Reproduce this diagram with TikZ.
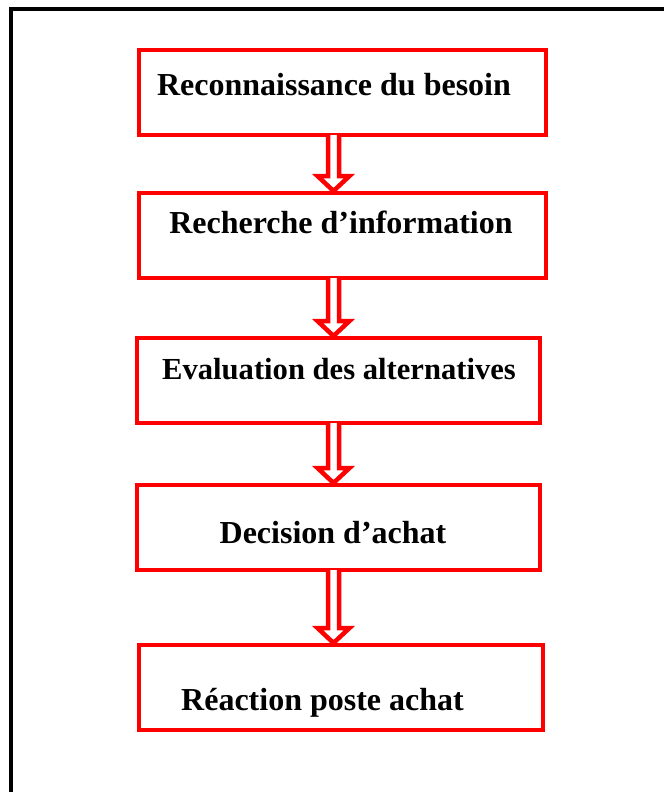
\documentclass[tikz,border=0pt]{standalone}
\usepackage{fontspec}
\setmainfont{Liberation Serif}
\usetikzlibrary{calc}
\definecolor{boxred}{RGB}{255,0,0}
\tikzset{
  stepbox/.style={draw=boxred, line width=4pt, rectangle, inner sep=0pt, minimum height=85pt},
  steptext/.style={anchor=base, inner sep=0pt, font=\fontsize{32}{38}\selectfont\bfseries},
  blockarr/.style={draw=boxred, fill=white, line width=4.5pt, line join=miter},
  frame/.style={draw=black, line width=4pt}
}
\newcommand\blockarrow[2]{%
  \draw[blockarr] let \p1=(333.5,0 |- #1.south), \p2=(333.5,0 |- #2.north) in
    ({\x1-5.5pt},{\y1+2pt}) -- ({\x1-5.5pt},{\y2+15pt}) -- ({\x1-16pt},{\y2+15pt}) --
    ({\x1},{\y2}) -- ({\x1+16pt},{\y2+15pt}) -- ({\x1+5.5pt},{\y2+15pt}) -- ({\x1+5.5pt},{\y1+2pt});
}
\begin{document}
\begin{tikzpicture}[x=1pt,y=-1pt]
\useasboundingbox (0,0) rectangle (664,792);
\draw[frame] (11,792) -- (11,9) -- (664,9);
\node[stepbox, minimum width=407pt] (b1) at (342.5,92.5) {};
\node[stepbox, minimum width=407pt] (b2) at (342.5,235.5) {};
\node[stepbox, minimum width=403pt] (b3) at (338.5,380.5) {};
\node[stepbox, minimum width=403pt] (b4) at (338.5,527.5) {};
\node[stepbox, minimum width=404pt] (b5) at (341,687.5) {};
\node[steptext] (t1) at (334,95.7) {Reconnaissance du besoin};
\node[steptext] (t2) at (341,233) {Recherche d’information};
\node[steptext, font=\fontsize{30.6}{36}\selectfont\bfseries] (t3) at (339,379) {Evaluation des alternatives};
\node[steptext] (t4) at (333,543) {Decision d’achat};
\node[steptext] (t5) at (322.5,710) {Réaction poste achat};
\blockarrow{b1}{b2}
\blockarrow{b2}{b3}
\blockarrow{b3}{b4}
\blockarrow{b4}{b5}
\end{tikzpicture}
\end{document}
